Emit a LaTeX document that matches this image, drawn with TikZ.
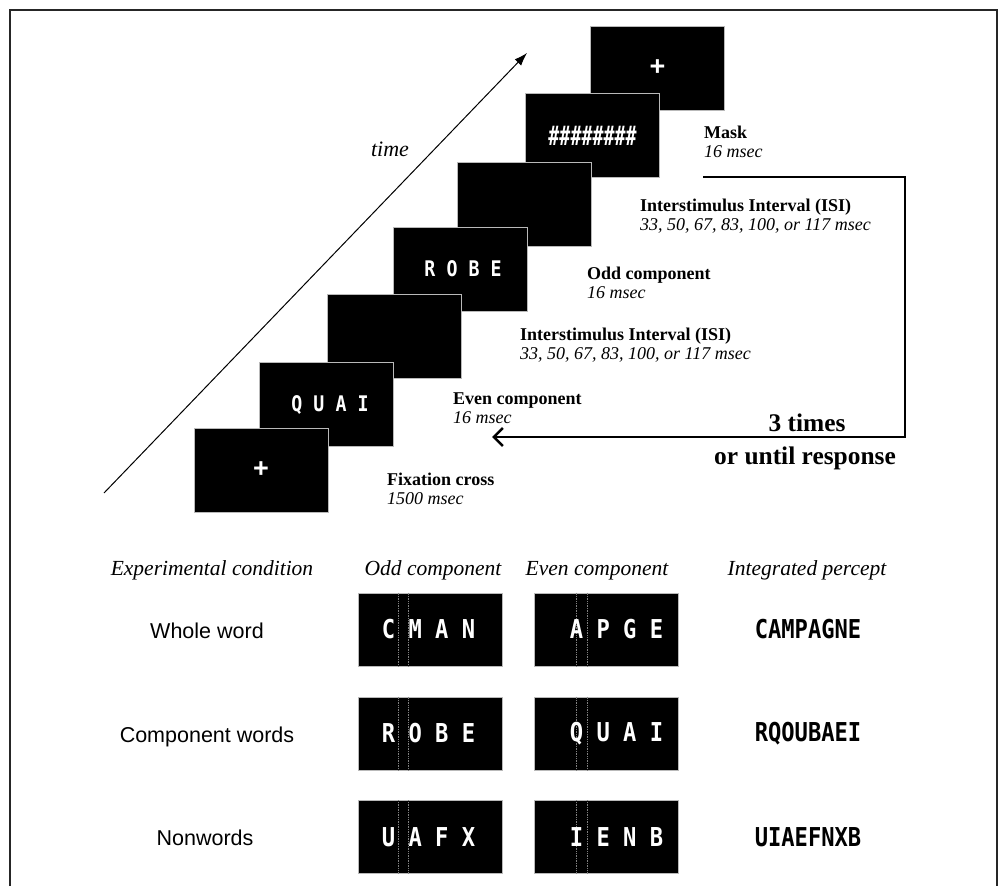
\documentclass[tikz,border=0pt]{standalone}
\usepackage{fontspec}
\setmainfont{Liberation Serif}
\setsansfont{Liberation Sans}
\newfontfamily\stimfont[FakeStretch=0.85]{DejaVu Sans Mono Bold}
\usetikzlibrary{positioning,arrows.meta}
\begin{document}
\begin{tikzpicture}[x=1pt,y=-1pt,
  scr/.style={fill=black,draw=gray!55,line width=0.8pt,minimum width=134pt,minimum height=84pt,inner sep=0pt,text=white,font=\stimfont\fontsize{21.5}{21.5}\selectfont},
  tab/.style={fill=black,draw=gray!55,line width=0.8pt,minimum width=144pt,minimum height=73pt,inner sep=0pt},
  let/.style={text=white,inner sep=0pt,font=\stimfont\fontsize{26}{26}\selectfont},
  tit/.style={anchor=base west,inner sep=0pt,font=\bfseries\fontsize{18}{19}\selectfont},
  dur/.style={anchor=base west,inner sep=0pt,font=\itshape\fontsize{18}{19}\selectfont},
  hd/.style={anchor=base,inner sep=0pt,font=\itshape\fontsize{21.5}{22}\selectfont},
  cond/.style={anchor=base,inner sep=0pt,font=\sffamily\fontsize{21.5}{22}\selectfont},
  sep/.style={gray,densely dotted,line width=0.7pt}]
\useasboundingbox (0,0) rectangle (1001,886);
% frame
\draw[line width=2pt,black!85] (10,886) -- (10,10) -- (997,10) -- (997,886);

% time axis
\coordinate (t0) at (104,493);
\coordinate (t1) at (527,53);
\draw[line width=1pt,-{Latex[length=13pt,width=9pt]}] (t0) -- (t1);
\node[font=\itshape\fontsize{22}{22}\selectfont] (time) at (390,149) {time};

% screens, back to front
\node[scr] (b7) at (657.5,68) {\sffamily\bfseries\fontsize{27}{27}\selectfont +};
\node[scr] (b6) at (592.5,135.5) {\scalebox{1}[1.25]{\#\#\#\#\#\#\#\#}};
\node[scr] (b5) at (524.5,204) {};
\node[scr] (b4) at (460,269) {\hspace*{6pt}R O B E};
\node[scr] (b3) at (394.5,336.5) {};
\node[scr] (b2) at (326,404.5) {\hspace*{8pt}Q U A I};
\node[scr] (b1) at (261,470) {\sffamily\bfseries\fontsize{27}{27}\selectfont +};

% labels
\node[tit] (maskT) at (704,138) {Mask};
\node[dur] (maskD) at ([yshift=-19pt]maskT.base west) {16 msec};
\node[tit] (isiT) at (640,211) {Interstimulus Interval (ISI)};
\node[dur] (isiD) at ([yshift=-19pt]isiT.base west) {33, 50, 67, 83, 100, or 117 msec};
\node[tit] (oddT) at (587,279) {Odd component};
\node[dur] (oddD) at ([yshift=-19pt]oddT.base west) {16 msec};
\node[tit] (isiT2) at (520,340) {Interstimulus Interval (ISI)};
\node[dur] (isiD2) at ([yshift=-19pt]isiT2.base west) {33, 50, 67, 83, 100, or 117 msec};
\node[tit] (evenT) at (453,404) {Even component};
\node[dur] (evenD) at ([yshift=-19pt]evenT.base west) {16 msec};
\node[tit] (fixT) at (387,485) {Fixation cross};
\node[dur] (fixD) at ([yshift=-19pt]fixT.base west) {1500 msec};

% loop
\coordinate (l0) at (703,177);
\coordinate (l1) at (905,177);
\coordinate (l2) at (905,437);
\coordinate (l3) at (492,437);
\draw[line width=2.5pt,-{Straight Barb[length=9pt,width=18pt]}] (l0) -- (l1) -- (l2) -- (l3);
\node[anchor=base,inner sep=0pt,font=\bfseries\fontsize{25.4}{26}\selectfont] (rep) at (807,431) {3 times};
\node[anchor=base,inner sep=0pt,font=\bfseries\fontsize{25.4}{26}\selectfont] (resp) at (805,464) {or until response};

% table header
\node[hd] (h1) at (212,575) {Experimental condition};
\node[hd] (h2) at (433,575) {Odd component};
\node[hd] (h3) at (597,575) {Even component};
\node[hd] (h4) at (807,575) {Integrated percept};

% conditions
\node[cond] (c1) at (207,638) {Whole word};
\node[cond] (c2) at (207,742) {Component words};
\node[cond] (c3) at (205,845) {Nonwords};

% odd / even boxes
\node[tab] (o1) at (430,629.5) {};
\node[tab] (e1) at (606.5,629.5) {};
\node[tab] (o2) at (430,733.5) {};
\node[tab] (e2) at (606.5,733.5) {};
\node[tab] (o3) at (430,837) {};
\node[tab] (e3) at (606.5,837) {};
\foreach \b in {o1,o2,o3}{
  \draw[sep] ([xshift=41pt]\b.north west) -- ([xshift=41pt]\b.south west);
  \draw[sep] ([xshift=51pt]\b.north west) -- ([xshift=51pt]\b.south west);
}
\foreach \b in {e1,e2,e3}{
  \draw[sep] ([xshift=42pt]\b.north west) -- ([xshift=42pt]\b.south west);
  \draw[sep] ([xshift=53pt]\b.north west) -- ([xshift=53pt]\b.south west);
}
\node[let] (w1) at (428.5,629.5) {C M A N};
\node[let] (v1) at (616.5,629.5) {A P G E};
\node[let] (w2) at (428.5,733.5) {R O B E};
\node[let] (v2) at (616.5,733.5) {Q U A I};
\node[let] (w3) at (428.5,837) {U A F X};
\node[let] (v3) at (616.5,837) {I E N B};

% integrated percept
\node[let,text=black] (p1) at (808,629.5) {CAMPAGNE};
\node[let,text=black] (p2) at (808,733.5) {RQOUBAEI};
\node[let,text=black] (p3) at (808,837) {UIAEFNXB};
\end{tikzpicture}
\end{document}
